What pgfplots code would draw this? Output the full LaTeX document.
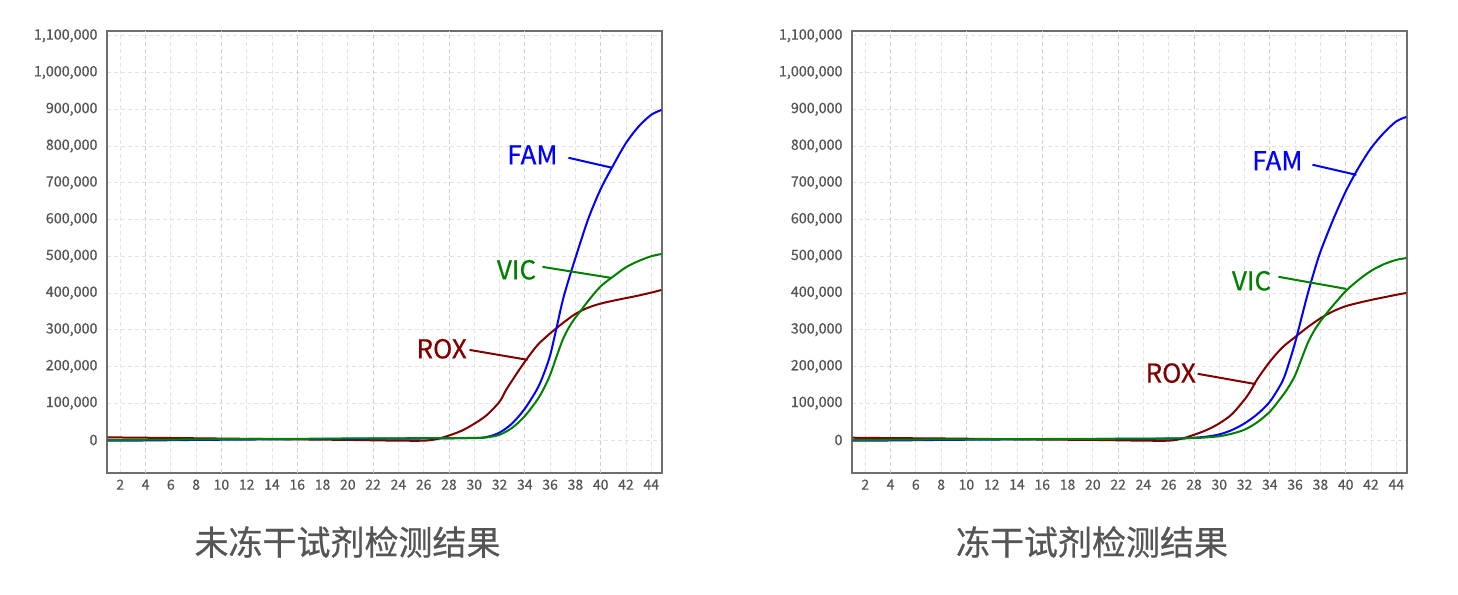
\documentclass[border=0pt]{standalone}
\usepackage{pgfplots}
\pgfplotsset{compat=1.18}
\usepackage{fontspec}
\setmainfont{Noto Sans CJK SC}
\newfontfamily\tickfont[FakeBold=0.45]{Noto Sans CJK SC}
\newfontfamily\labfont[FakeBold=0.6]{Noto Sans CJK SC}
\definecolor{famc}{RGB}{0,0,255}
\definecolor{vicc}{RGB}{0,128,0}
\definecolor{roxc}{RGB}{128,0,0}
\definecolor{txt}{RGB}{85,85,85}
\definecolor{framec}{RGB}{110,110,110}

\pgfplotsset{qpcr/.style={
  scale only axis, width=555pt, height=442pt,
  xmin=0.95, xmax=44.85, ymin=-90000, ymax=1113000,
  xtick={2,4,...,44}, ytick={0,100000,...,1100000},
  scaled y ticks=false,
  /pgf/number format/assume math mode=true,
  yticklabel style={/pgf/number format/fixed, /pgf/number format/1000 sep={,}, font=\tickfont\fontsize{14.3}{17}\selectfont, text=txt, xshift=-6pt},
  xticklabel style={font=\tickfont\fontsize{14}{17}\selectfont, text=txt, yshift=-3pt},
  major tick length=0pt,
  grid=major, major grid style={dash pattern=on 4pt off 3pt, gray!22, line width=0.8pt},
  extra x ticks={4,10,16,22,28,34,40}, extra x tick labels={},
  extra x tick style={major grid style={dash pattern=on 4pt off 3pt, gray!38, line width=0.8pt}},
  axis line style={framec, line width=1.3pt},
  every axis plot/.append style={line width=2pt, smooth},
  anchor=south west,
}}

\begin{document}
\begin{tikzpicture}
\useasboundingbox (0,0) rectangle (1458pt,594pt);

% ---------------- left ----------------
\begin{axis}[qpcr, at={(107pt,121pt)}]
\addplot[roxc] coordinates {(1,7000) (4,6000) (8,4500) (12,3000) (16,1500) (20,0) (22,-1000) (24,-2000) (26,-2000) (27,2000) (28,12000) (29,25000) (30,44000) (31,68000) (32,104000) (32.5,135000) (33,162000) (34,213000) (35,258000) (36,290000) (36.5,304000) (37,318000) (38,343000) (39,360000) (40,371000) (41,379000) (42,386000) (43,393000) (44,401000) (44.8,408000)};
\addplot[famc] coordinates {(1,-2000) (4,-1500) (8,0) (12,1000) (16,2000) (20,3000) (24,3500) (28,4500) (30,5000) (31,8000) (32,20000) (33,45000) (34,85000) (35,140000) (35.5,180000) (36,230000) (36.5,304000) (37,380000) (37.5,440000) (38,495000) (39,600000) (40,683000) (41,748000) (42,808000) (43,853000) (44,885000) (44.8,898000)};
\addplot[vicc] coordinates {(1,0) (4,500) (8,1500) (12,2500) (16,3000) (20,4000) (24,4500) (28,5000) (30,5500) (31,7000) (32,14000) (33,33000) (34,65000) (35,110000) (35.5,140000) (36,177000) (36.5,226000) (37,273000) (37.5,307000) (38,333000) (38.5,355000) (39,378000) (40,418000) (41,445000) (42,470000) (43,487000) (44,500000) (44.8,506000)};
\node[text=famc, font=\labfont\fontsize{26}{30}\selectfont] at (axis cs:34.6,776000) {FAM};
\draw[famc, line width=2pt] (axis cs:37.45,768000) -- (axis cs:40.92,740600);
\node[text=vicc, font=\labfont\fontsize{26}{30}\selectfont] at (axis cs:33.34,463000) {VIC};
\draw[vicc, line width=2pt] (axis cs:35.39,471000) -- (axis cs:40.84,441000);
\node[text=roxc, font=\labfont\fontsize{26}{30}\selectfont] at (axis cs:27.42,248000) {ROX};
\draw[roxc, line width=2pt] (axis cs:29.63,245000) -- (axis cs:34.21,218000);
\end{axis}

% ---------------- right ----------------
\begin{axis}[qpcr, at={(852pt,121pt)}]
\addplot[roxc] coordinates {(1,6000) (4,5000) (8,4000) (12,2500) (16,1000) (20,0) (22,-1000) (24,-2000) (26,-2000) (27,3000) (28,14000) (29,27000) (30,45000) (31,70000) (32,110000) (32.5,135000) (33,165000) (34,213000) (35,252000) (36,280000) (37,307000) (38,331000) (39,350000) (40,364000) (41,373000) (42,381000) (43,388000) (44,395000) (44.8,400000)};
\addplot[famc] coordinates {(1,-2000) (4,-1500) (8,0) (12,1000) (16,2000) (20,2500) (24,3000) (26,3500) (27,4000) (28,6000) (29,9000) (30,15000) (31,27000) (32,45000) (33,70000) (34,104000) (35,160000) (35.5,208000) (36,265000) (36.5,332000) (37,398000) (37.5,458000) (38,512000) (39,599000) (40,676000) (41,740000) (42,794000) (43,835000) (44,867000) (44.8,879000)};
\addplot[vicc] coordinates {(1,0) (4,500) (8,1500) (12,2000) (16,2500) (20,3000) (24,3500) (26,4000) (28,5000) (29,7000) (30,10000) (31,17000) (32,28000) (33,48000) (34,77000) (35,120000) (35.5,145000) (36,176000) (36.5,220000) (37,264000) (37.5,297000) (38,323000) (38.5,345000) (39,366000) (40,405000) (41,435000) (42,460000) (43,478000) (44,490000) (44.8,495000)};
\node[text=famc, font=\labfont\fontsize{26}{30}\selectfont] at (axis cs:34.6,760000) {FAM};
\draw[famc, line width=2pt] (axis cs:37.37,749000) -- (axis cs:40.84,721500);
\node[text=vicc, font=\labfont\fontsize{26}{30}\selectfont] at (axis cs:32.55,433000) {VIC};
\draw[vicc, line width=2pt] (axis cs:34.68,444000) -- (axis cs:40.05,411000);
\node[text=roxc, font=\labfont\fontsize{26}{30}\selectfont] at (axis cs:26.16,182000) {ROX};
\draw[roxc, line width=2pt] (axis cs:28.29,180000) -- (axis cs:32.87,152000);
\end{axis}

\node[text=txt, font=\labfont\fontsize{34}{40}\selectfont] at (347.5pt,52pt) {未冻干试剂检测结果};
\node[text=txt, font=\labfont\fontsize{34}{40}\selectfont] at (1092pt,52pt) {冻干试剂检测结果};
\end{tikzpicture}
\end{document}
